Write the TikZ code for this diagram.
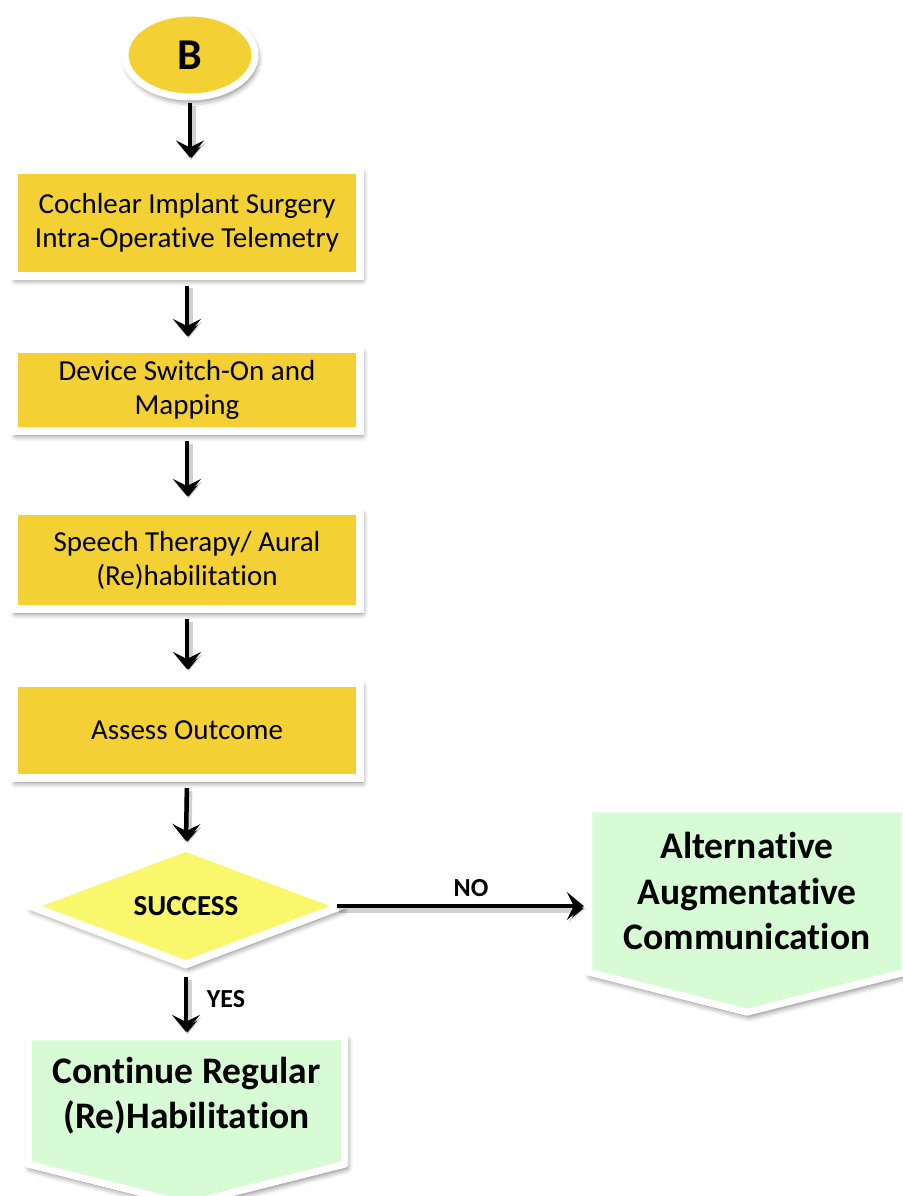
\documentclass[tikz,border=0pt]{standalone}
\usepackage{fontspec}
\setmainfont{Carlito}[Ligatures={NoCommon}]
\usetikzlibrary{shapes.geometric,arrows.meta,shadows.blur}
\definecolor{boxy}{RGB}{243,209,52}
\definecolor{diay}{RGB}{249,247,108}
\definecolor{mint}{RGB}{214,251,213}
\pgfdeclarelayer{bg}
\pgfsetlayers{bg,main}
\begin{document}
\begin{tikzpicture}[x=1pt,y=-1pt,
  softshadow/.style={blur shadow={shadow xshift=2pt,shadow yshift=-4pt,shadow blur radius=6pt,shadow opacity=60}},
  ybox/.style={rectangle,draw=white,line width=8pt,fill=boxy,minimum width=346pt,inner sep=0pt,align=center,
    font=\fontsize{29}{34}\selectfont,softshadow},
  gshape/.style={draw=white,line width=7pt,fill=mint,line join=round,softshadow},
  gtext/.style={align=center,inner sep=0pt,font=\bfseries\fontsize{37.5}{45.5}\selectfont},
  lab/.style={inner sep=0pt,font=\bfseries\fontsize{26}{30}\selectfont},
  arr/.style={draw=black,line width=4.5pt,-{Stealth[length=17pt,width=28pt,inset=7pt]},
    preaction={draw=black,draw opacity=0.18,line width=8pt,transform canvas={xshift=1.5pt,yshift=-2.5pt}},
    shorten <=6pt,shorten >=11pt}
]
\useasboundingbox (0,0) rectangle (902,1196);

\node[ellipse,draw=white,line width=7pt,fill=boxy,minimum width=130pt,minimum height=84pt,inner sep=0pt,
  softshadow,font=\bfseries\fontsize{44}{44}\selectfont] (b) at (190,55) {B};

\node[ybox,minimum height=106pt] (s1) at (187,222.5) {Cochlear Implant Surgery\\Intra-Operative Telemetry};
\node[ybox,minimum height=82pt] (s2) at (187,390) {Device Switch-On and\\Mapping};
\node[ybox,minimum height=98pt] (s3) at (187,560) {Speech Therapy/ Aural\\(Re)habilitation};
\node[ybox,minimum height=95pt] (s4) at (187,730.5) {Assess Outcome};

\node[diamond,aspect=2.6,minimum width=314pt,minimum height=120pt,draw=white,line width=8pt,fill=diay,
  inner sep=0pt,softshadow,font=\bfseries\fontsize{29}{32}\selectfont] (suc) at (186,906) {SUCCESS};

% green outcome shapes
\node[minimum width=316pt,minimum height=127pt,inner sep=0pt] (cont) at (186.5,1100.5) {};
\node[minimum width=316pt,minimum height=163pt,inner sep=0pt] (aac) at (747,890.5) {};
\begin{pgfonlayer}{bg}
\path[gshape] (cont.north west) -- (cont.north east) -- (cont.south east) -- ([yshift=-40pt]cont.south)
  -- (cont.south west) -- cycle;
\path[gshape] (aac.north west) -- (aac.north east) -- (aac.south east) -- ([yshift=-40pt]aac.south)
  -- (aac.south west) -- cycle;
\end{pgfonlayer}
\node[gtext] (conttxt) at (186.5,1095.5) {Continue Regular\\(Re)Habilitation};
\node[gtext] (aactxt) at (747,891) {Alternative\\Augmentative\\Communication};

% connectors
\draw[arr,shorten <=3pt,shorten >=8pt] (b.south) -- (b.south |- s1.north);
\draw[arr,shorten >=9pt] (s1.south) -- (s2.north);
\draw[arr,shorten >=11pt] (s2.south) -- (s3.north);
\draw[arr,shorten >=10pt] (s3.south) -- (s4.north);
\draw[arr,shorten >=1pt] (s4.south) -- (suc.north);
\draw[arr,shorten <=7pt,shorten >=5pt] (suc.south) -- (suc.south |- cont.north);
\draw[arr,shorten <=-10pt,shorten >=5pt] (suc.east) -- (aac.west |- suc.east);

\node[lab] (no) at (471,888) {NO};
\node[lab] (yes) at (226,999) {YES};
\end{tikzpicture}
\end{document}
